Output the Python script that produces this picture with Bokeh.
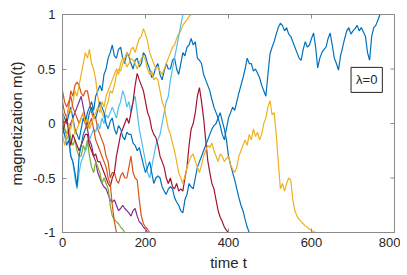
from bokeh.plotting import figure
from bokeh.models import Range1d, FixedTicker, Label
from bokeh.embed import file_html
from bokeh.resources import INLINE
import numpy as np

# time step of the sampled trajectories
dt = 5

blue_a = [0.1, 0.05, 0.0, 0.08, 0.15, 0.05, -0.05, -0.1, -0.15, -0.05, 0.05, 0.0, 0.1, 0.15, 0.2, 0.12,
          0.25, 0.3, 0.35, 0.3, 0.45, 0.5, 0.6, 0.65, 0.72, 0.62, 0.6, 0.68, 0.7, 0.6, 0.55, 0.65, 0.62,
          0.55, 0.5, 0.58, 0.6, 0.52, 0.55, 0.65, 0.62, 0.55, 0.5, 0.42, 0.45, 0.52, 0.55, 0.45, 0.4, 0.48,
          0.55, 0.5, 0.5, 0.58, 0.6, 0.5, 0.45, 0.55, 0.65, 0.62, 0.7, 0.72, 0.78, 0.72, 0.75, 0.6, 0.58,
          0.55, 0.45, 0.4, 0.35, 0.3, 0.22, 0.15, 0.1, 0.05, -0.02, -0.1, -0.15, -0.05, 0.05, 0.1, 0.15,
          0.12, 0.2, 0.28, 0.35, 0.42, 0.5, 0.6, 0.55, 0.55, 0.48, 0.5, 0.46, 0.42, 0.35, 0.3, 0.25, 0.45,
          0.64, 0.7, 0.75, 0.82, 0.88, 0.92, 0.9, 0.85, 0.88, 0.82, 0.8, 0.75, 0.7, 0.65, 0.6, 0.58, 0.68,
          0.75, 0.7, 0.72, 0.78, 0.83, 0.7, 0.51, 0.6, 0.65, 0.68, 0.7, 0.78, 0.83, 0.72, 0.6, 0.55, 0.49,
          0.62, 0.7, 0.78, 0.85, 0.88, 0.82, 0.85, 0.87, 0.9, 0.85, 0.88, 0.84, 0.8, 0.65, 0.58, 0.8, 0.88,
          0.9, 0.95, 1.0]
orange_a = [0.2, 0.1, 0.05, 0.15, 0.3, 0.25, 0.35, 0.38, 0.35, 0.28, 0.25, 0.3, 0.3, 0.2, 0.1, 0.05, 0.05,
            -0.05, -0.1, -0.15, -0.2, -0.3, -0.35, -0.5, -0.45, -0.45, -0.52, -0.55, -0.48, -0.45, -0.5,
            -0.5, -0.4, -0.3, -0.45, -0.5, -0.52, -0.7, -0.85, -0.92, -0.95, -0.97, -1.0]
yellow_a = [0.1, 0.0, 0.05, 0.15, 0.1, 0.2, 0.3, 0.25, 0.35, 0.45, 0.55, 0.65, 0.6, 0.68, 0.55, 0.5, 0.4,
            0.25, 0.15, 0.1, 0.05, 0.15, 0.2, 0.3, 0.28, 0.35, 0.45, 0.5, 0.48, 0.55, 0.6, 0.65, 0.6, 0.68,
            0.7, 0.65, 0.72, 0.78, 0.8, 0.87, 0.82, 0.75, 0.65, 0.6, 0.55, 0.5, 0.52, 0.48, 0.45, 0.5, 0.55,
            0.6, 0.65, 0.7, 0.72, 0.78, 0.82, 0.85, 0.9, 0.93, 0.95, 0.98, 1.0]
purple = [0.05, -0.05, -0.1, -0.05, 0.0, 0.05, 0.1, 0.15, 0.2, 0.25, 0.15, 0.05, -0.05, -0.15, -0.2, -0.3,
          -0.35, -0.45, -0.5, -0.55, -0.58, -0.6, -0.65, -0.7, -0.72, -0.7, -0.75, -0.8, -0.78, -0.75, -0.78,
          -0.8, -0.82, -0.85, -0.8, -0.78, -0.85, -0.9, -0.92, -0.95, -0.97, -1.0]
green = [0.0, -0.05, -0.1, 0.0, -0.15, -0.2, -0.15, -0.25, -0.3, -0.3, -0.2, -0.25, -0.15, -0.3, -0.4, -0.45,
         -0.35, -0.4, -0.45, -0.55, -0.5, -0.55, -0.6, -0.75, -0.85, -0.88, -0.9, -0.92, -0.95, -0.97, -1.0]
light_blue = [0.0, -0.1, -0.15, -0.1, -0.3, -0.35, -0.5, -0.6, -0.45, -0.35, -0.3, -0.25, -0.2, -0.15, -0.1,
              -0.05, -0.08, 0.0, -0.05, 0.05, 0.0, 0.08, 0.05, 0.1, 0.15, 0.1, 0.05, 0.15, 0.2, 0.3, 0.25,
              0.15, 0.2, 0.1, 0.2, 0.25, 0.1, -0.05, -0.15, -0.25, -0.35, -0.45, -0.5, -0.4, -0.3, -0.2,
              -0.15, -0.1, 0.0, 0.1, 0.2, 0.25, 0.4, 0.5, 0.6, 0.7, 0.8, 0.9, 1.0]
dark_red = [-0.1, 0.0, 0.05, -0.1, -0.2, -0.1, -0.15, -0.2, -0.25, -0.2, -0.15, -0.1, -0.1, -0.2, -0.25, -0.3,
            -0.28, -0.35, -0.35, -0.4, -0.45, -0.5, -0.55, -0.58, -0.5, -0.45, -0.3, -0.2, -0.1, -0.05, 0.0,
            0.05, 0.0, 0.1, 0.2, 0.35, 0.46, 0.4, 0.35, 0.3, 0.2, 0.1, 0.05, -0.05, -0.1, -0.13, -0.2, -0.3,
            -0.35, -0.4, -0.5, -0.55, -0.5, -0.58, -0.6, -0.55, -0.62, -0.6, -0.62, -0.5, -0.4, -0.2, -0.05,
            0.0, 0.1, 0.25, 0.33, 0.2, 0.05, -0.15, -0.34, -0.45, -0.55, -0.6, -0.7, -0.8, -0.86, -0.9, -0.95,
            -0.98, -1.0]
blue_b = [-0.05, -0.1, -0.2, -0.15, -0.3, -0.35, -0.45, -0.58, -0.3, -0.2, -0.1, -0.05, 0.0, 0.1, 0.15, 0.08,
          0.05, 0.12, 0.2, 0.15, 0.1, 0.0, -0.05, 0.02, 0.05, -0.05, -0.1, -0.02, -0.05, -0.12, -0.15, -0.08,
          -0.1, -0.1, -0.18, -0.2, -0.25, -0.22, -0.3, -0.38, -0.45, -0.4, -0.35, -0.45, -0.55, -0.5, -0.48,
          -0.5, -0.58, -0.62, -0.65, -0.6, -0.58, -0.6, -0.68, -0.72, -0.75, -0.8, -0.82, -0.7, -0.65, -0.55,
          -0.58, -0.6, -0.5, -0.4, -0.35, -0.3, -0.25, -0.2, -0.15, -0.1, -0.05, -0.02, 0.0, 0.05, 0.1, 0.02,
          -0.05, -0.15, -0.3, -0.38, -0.45, -0.52, -0.6, -0.68, -0.75, -0.8, -0.88, -0.95, -1.0]
orange_b = [0.3, 0.2, 0.15, 0.2, 0.25, 0.15, 0.1, 0.05, 0.0, 0.05, 0.1, 0.0, -0.05, 0.0, 0.05, -0.05, -0.15,
            -0.2, -0.25, -0.3, -0.35, -0.4, -0.5, -0.55, -0.75, -0.9, -1.0]
yellow_b = [-0.1, -0.2, -0.1, 0.0, -0.05, 0.05, -0.1, -0.05, 0.0, 0.05, 0.1, 0.0, 0.05, -0.05, 0.0, 0.05, 0.1,
            0.15, 0.1, 0.2, 0.15, 0.25, 0.3, 0.35, 0.4, 0.45, 0.5, 0.45, 0.55, 0.6, 0.58, 0.52, 0.55, 0.6,
            0.58, 0.55, 0.5, 0.55, 0.6, 0.62, 0.58, 0.5, 0.45, 0.48, 0.4, 0.42, 0.4, 0.3, 0.2, 0.15, 0.05,
            -0.05, -0.1, -0.18, -0.25, -0.35, -0.45, -0.5, -0.55, -0.48, -0.4, -0.35, -0.3, -0.28, -0.35, -0.4,
            -0.45, -0.38, -0.3, -0.25, -0.2, -0.22, -0.18, -0.25, -0.3, -0.35, -0.28, -0.3, -0.35, -0.32, -0.3,
            -0.38, -0.42, -0.45, -0.4, -0.3, -0.25, -0.2, -0.15, -0.2, -0.1, -0.15, -0.05, -0.12, -0.08, -0.15,
            -0.1, 0.0, 0.05, 0.15, 0.21, 0.08, 0.1, -0.1, -0.35, -0.6, -0.55, -0.62, -0.55, -0.5, -0.52, -0.7,
            -0.8, -0.85, -0.88, -0.9, -0.92, -0.94, -0.95, -0.97, -0.98, -0.99, -1.0]

series = [
    (blue_a, "#0072BD"),
    (orange_a, "#D95319"),
    (yellow_a, "#EDB120"),
    (purple, "#7E2F8E"),
    (green, "#77AC30"),
    (light_blue, "#4DBEEE"),
    (dark_red, "#A2142F"),
    (blue_b, "#0072BD"),
    (orange_b, "#D95319"),
    (yellow_b, "#EDB120"),
]

x_ticks = [0, 200, 400, 600, 800]
y_ticks = [-1, -0.5, 0, 0.5, 1]
y_tick_labels = ["-1", "-0.5", "0", "0.5", "1"]
x_min, x_max, y_min, y_max = 0, 800, -1, 1

FONT = "Liberation Sans"
AX = "#8a8a8a"
TXT = "#262626"

W, H = 400, 275
L, R, T, B = 62, 6, 14, 43
p = figure(width=W, height=H, output_backend="svg", toolbar_location=None,
           x_range=Range1d(x_min, x_max), y_range=Range1d(y_min, y_max),
           min_border_left=L, min_border_right=R, min_border_top=T, min_border_bottom=B)
p.background_fill_color = "white"
p.border_fill_color = "white"
p.outline_line_color = AX
p.grid.visible = False

for m, c in series:
    t = np.arange(len(m)) * dt
    p.line(t, m, line_color=c, line_width=1.2)

for ax in (p.xaxis[0], p.yaxis[0]):
    ax.axis_line_color = AX
    ax.major_tick_line_color = AX
    ax.major_tick_in = 4
    ax.major_tick_out = 0
    ax.minor_tick_line_color = None
    ax.major_label_text_font = FONT
    ax.major_label_text_font_size = "13px"
    ax.major_label_text_color = TXT
    ax.axis_label_text_font = FONT
    ax.axis_label_text_font_size = "15px"
    ax.axis_label_text_font_style = "normal"
    ax.axis_label_text_color = TXT

p.xaxis[0].ticker = FixedTicker(ticks=x_ticks)
p.yaxis[0].ticker = FixedTicker(ticks=y_ticks)
p.yaxis[0].major_label_overrides = {k: v for k, v in zip(y_ticks, y_tick_labels)}
p.xaxis[0].axis_label = "time t"
p.yaxis[0].axis_label = "magnetization m(t)"
p.xaxis[0].major_label_standoff = 5
p.yaxis[0].major_label_standoff = 7
p.xaxis[0].axis_label_standoff = 4
p.yaxis[0].axis_label_standoff = 5

# inward tick marks on the top and right edges of the box (4 px long)
frame_w, frame_h = W - L - R, H - T - B
ty = 4 * (y_max - y_min) / frame_h
tx = 4 * (x_max - x_min) / frame_w
p.segment(x0=x_ticks, y0=[y_max] * len(x_ticks), x1=x_ticks, y1=[y_max - ty] * len(x_ticks),
          line_color=AX, line_width=1)
p.segment(x0=[x_max] * len(y_ticks), y0=y_ticks, x1=[x_max - tx] * len(y_ticks), y1=y_ticks,
          line_color=AX, line_width=1)

lab = Label(x=733, y=0.40, text="λ=0", text_font=FONT, text_font_size="13px", text_color=TXT,
            text_align="center", text_baseline="middle",
            background_fill_color="white", border_line_color=TXT, border_line_width=1, padding=5)
p.add_layout(lab)

open("out.html", "w").write(file_html(p, INLINE))
